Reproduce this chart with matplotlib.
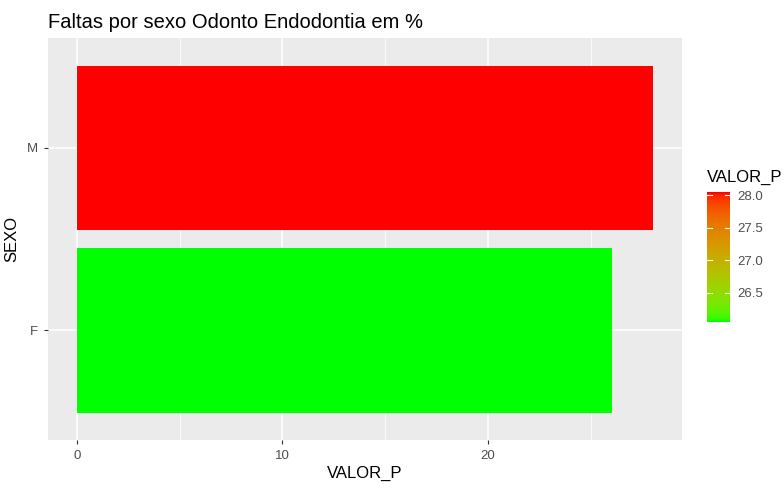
import numpy as np
import matplotlib
matplotlib.use('Agg')
import matplotlib.pyplot as plt
from matplotlib.colors import LinearSegmentedColormap, Normalize
from matplotlib.colorbar import ColorbarBase

plt.rcParams['font.family'] = ['Liberation Sans', 'DejaVu Sans']

# data
sexo = ['F', 'M']
valor_p = [26.05, 28.05]
x_ticks = [0, 10, 20]
cbar_ticks = [26.5, 27.0, 27.5, 28.0]


def srgb_to_lab(rgb):
    rgb = np.asarray(rgb, dtype=float)
    lin = np.where(rgb <= 0.04045, rgb / 12.92, ((rgb + 0.055) / 1.055) ** 2.4)
    m = np.array([[0.4124, 0.3576, 0.1805],
                  [0.2126, 0.7152, 0.0722],
                  [0.0193, 0.1192, 0.9505]])
    xyz = m @ lin / np.array([0.95047, 1.0, 1.08883])
    f = np.where(xyz > 0.008856, np.cbrt(xyz), 7.787 * xyz + 16 / 116)
    return np.array([116 * f[1] - 16, 500 * (f[0] - f[1]), 200 * (f[1] - f[2])])


def lab_to_srgb(lab):
    L, a, b = lab
    fy = (L + 16) / 116
    fx = fy + a / 500
    fz = fy - b / 200
    f = np.array([fx, fy, fz])
    xyz = np.where(f ** 3 > 0.008856, f ** 3, (f - 16 / 116) / 7.787)
    xyz = xyz * np.array([0.95047, 1.0, 1.08883])
    m = np.array([[3.2406, -1.5372, -0.4986],
                  [-0.9689, 1.8758, 0.0415],
                  [0.0557, -0.2040, 1.0570]])
    lin = np.clip(m @ xyz, 0, 1)
    rgb = np.where(lin <= 0.0031308, 12.92 * lin, 1.055 * lin ** (1 / 2.4) - 0.055)
    return np.clip(rgb, 0, 1)


# ggplot-style gradient (green -> red, interpolated in Lab)
lab_lo = srgb_to_lab([0, 1, 0])
lab_hi = srgb_to_lab([1, 0, 0])
stops = [lab_to_srgb(lab_lo + t * (lab_hi - lab_lo)) for t in np.linspace(0, 1, 64)]
cmap = LinearSegmentedColormap.from_list('gr', stops)
norm = Normalize(vmin=min(valor_p), vmax=max(valor_p))

fig = plt.figure(figsize=(7.84, 4.9), dpi=100)
ax = fig.add_axes([0.0612, 0.102, 0.809, 0.820])
ax.set_facecolor('#EBEBEB')

ypos = np.arange(len(sexo)) + 1
ax.barh(ypos, valor_p, height=0.9, color=[cmap(norm(v)) for v in valor_p], zorder=3)

xmax = max(valor_p)
ax.set_xlim(-0.05 * xmax, 1.05 * xmax)
ax.set_ylim(0.4, len(sexo) + 0.6)
ax.set_xticks(x_ticks)
ax.set_xticks([5, 15, 25], minor=True)
ax.set_yticks(ypos)
ax.set_yticklabels(sexo)
ax.grid(which='major', color='white', linewidth=1.1, zorder=0)
ax.grid(which='minor', axis='x', color='white', linewidth=0.55, zorder=0)
ax.set_axisbelow(True)
for s in ax.spines.values():
    s.set_visible(False)
ax.tick_params(which='major', length=3, width=0.8, color='#333333', labelcolor='#4D4D4D',
               labelsize=9.5, pad=4)
ax.tick_params(which='minor', length=0)

ax.set_xlabel('VALOR_P', fontsize=12, color='black', labelpad=3)
ax.set_ylabel('SEXO', fontsize=12, color='black', labelpad=6)
ax.set_title('Faltas por sexo Odonto Endodontia em %', fontsize=14.5, loc='left', pad=7, x=0.0)

# legend colour bar
cax = fig.add_axes([707 / 784, 1 - 322 / 490, 23 / 784, 130 / 490])
cb = ColorbarBase(cax, cmap=cmap, norm=norm, ticks=cbar_ticks)
cb.outline.set_visible(False)
cax.tick_params(length=0, labelsize=9.5, labelcolor='#4D4D4D', pad=5)
cax.set_yticklabels(['%.1f' % t for t in cbar_ticks])
for t in cbar_ticks:
    cax.plot([0, 0.2], [t, t], color='white', lw=0.8)
    cax.plot([0.8, 1], [t, t], color='white', lw=0.8)
fig.text(707 / 784, 1 - 177 / 490, 'VALOR_P', fontsize=12, va='center', ha='left')

fig.savefig('out.png', dpi=100)
